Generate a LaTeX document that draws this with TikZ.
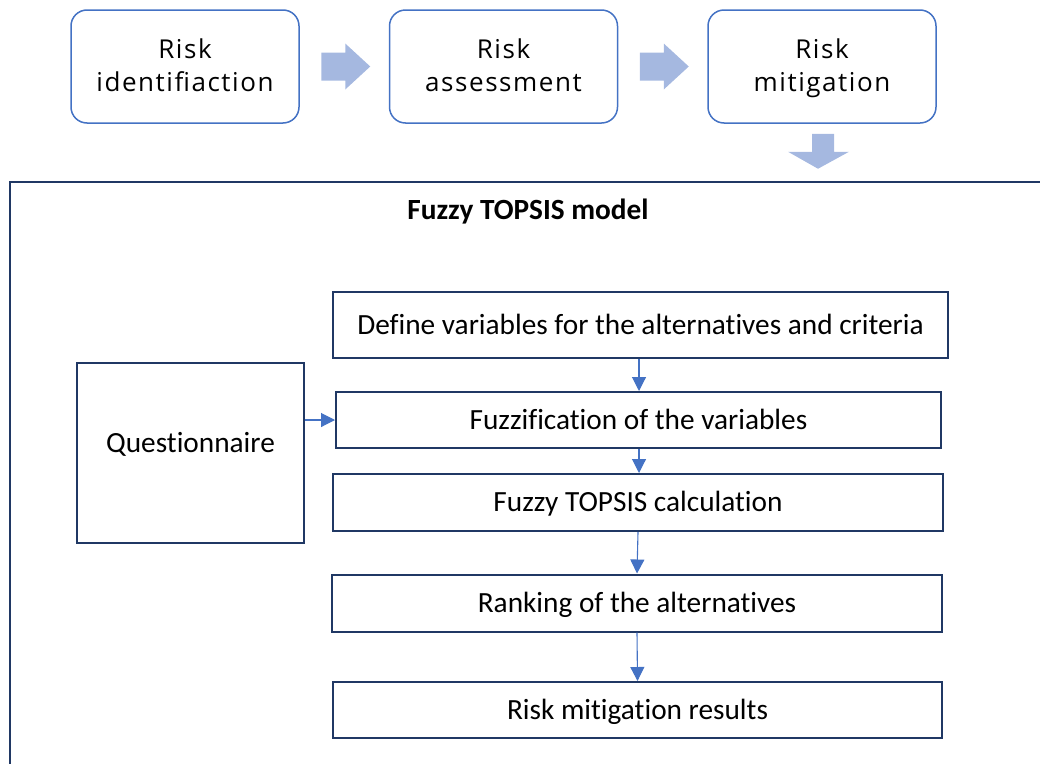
\documentclass[tikz,border=0pt]{standalone}
\usepackage{fontspec}
\setmainfont{Carlito}[Ligatures=NoCommon]
\newfontfamily\stagefont[LetterSpace=6]{Open Sans}
\usetikzlibrary{arrows.meta,calc}
\definecolor{stageblue}{RGB}{68,114,196}
\definecolor{navy}{RGB}{32,56,100}
\definecolor{blockblue}{RGB}{165,184,224}
% second line of a stage label: no height/depth of its own, fixed 3pt depth
\newcommand{\stageline}[1]{\smash{#1}\rule[-3pt]{0pt}{0pt}}
\begin{document}
\begin{tikzpicture}[x=1pt,y=-1pt,
  stage/.style={draw=stageblue, line width=1.5pt, rounded corners=16pt, fill=white,
    minimum width=228pt, minimum height=113pt, inner sep=0pt, align=center,
    font=\stagefont\fontsize{26}{33}\selectfont},
  stepbox/.style={draw=navy, line width=2pt, inner sep=0pt, fill=white,
    font=\fontsize{29.3}{35}\selectfont, text height=18.9pt, text depth=0pt},
  flow/.style={draw=stageblue, line width=1.1pt, -{Triangle[length=14pt,width=14pt]}},
  blockarrow/.style={fill=blockblue, draw=none}]
\useasboundingbox (0,0) rectangle (1040,763);
\clip (0,0) rectangle (1040,763);

% outer frame of the model (runs past the page edges)
\node[draw=navy, line width=2pt, inner sep=0pt, minimum width=1060pt, minimum height=620pt,
  anchor=north west] (frame) at (9,181) {};

% three process stages
\node[stage] (ident) at (185,66.5) {Risk\\\stageline{identifiaction}};
\node[stage] (assess) at (503.5,66.5) {Risk\\\stageline{assessment}};
\node[stage] (mitig) at (822,66.5) {Risk\\\stageline{mitigation}};

% block arrows between stages
\begin{scope}[shift={($(ident.east)!0.5!(assess.west)$)}]
  \fill[blockblue] (-23,-14) -- (1,-14) -- (1,-23) -- (26,0) -- (1,23) -- (1,14) -- (-23,14) -- cycle;
\end{scope}
\begin{scope}[shift={($(assess.east)!0.5!(mitig.west)$)}]
  \fill[blockblue] (-23,-14) -- (1,-14) -- (1,-23) -- (26,0) -- (1,23) -- (1,14) -- (-23,14) -- cycle;
\end{scope}
\begin{scope}[shift={(mitig.south)}]
  \fill[blockblue] (-10,10) -- (12,10) -- (12,28) -- (27,28) -- (-4,45) -- (-34,28) -- (-10,28) -- cycle;
\end{scope}

% model title
\node[font=\bfseries\fontsize{29.3}{35}\selectfont, text height=18.9pt, text depth=0pt, inner sep=0pt]
  (title) at (528,210) {Fuzzy TOPSIS model};

% model steps
\node[stepbox, minimum width=615pt, minimum height=66pt] (def) at (640.5,325)
  {Define variables for the alternatives and criteria};
\node[stepbox, minimum width=605pt, minimum height=56pt] (fuz) at (638.5,420)
  {Fuzzification of the variables};
\node[stepbox, minimum width=610pt, minimum height=57pt] (calc) at (638,502.5)
  {Fuzzy TOPSIS calculation};
\node[stepbox, minimum width=610pt, minimum height=57pt] (rank) at (637,603)
  {Ranking of the alternatives};
\node[stepbox, minimum width=609pt, minimum height=56pt] (res) at (637.5,710)
  {Risk mitigation results};
\node[stepbox, minimum width=227pt, minimum height=180pt, text depth=20pt] (quest) at (190.5,453)
  {Questionnaire};

% flow connectors
\draw[flow] (def.south -| 639,0) -- (fuz.north -| 639,0);
\draw[flow] (fuz.south -| 639,0) -- (calc.north -| 639,0);
\draw[flow] (calc.south -| 638,0) -- (rank.north -| 637,0);
\draw[flow] (rank.south) -- (res.north);
\draw[flow] (quest.east |- fuz.west) -- (fuz.west);
\end{tikzpicture}
\end{document}
